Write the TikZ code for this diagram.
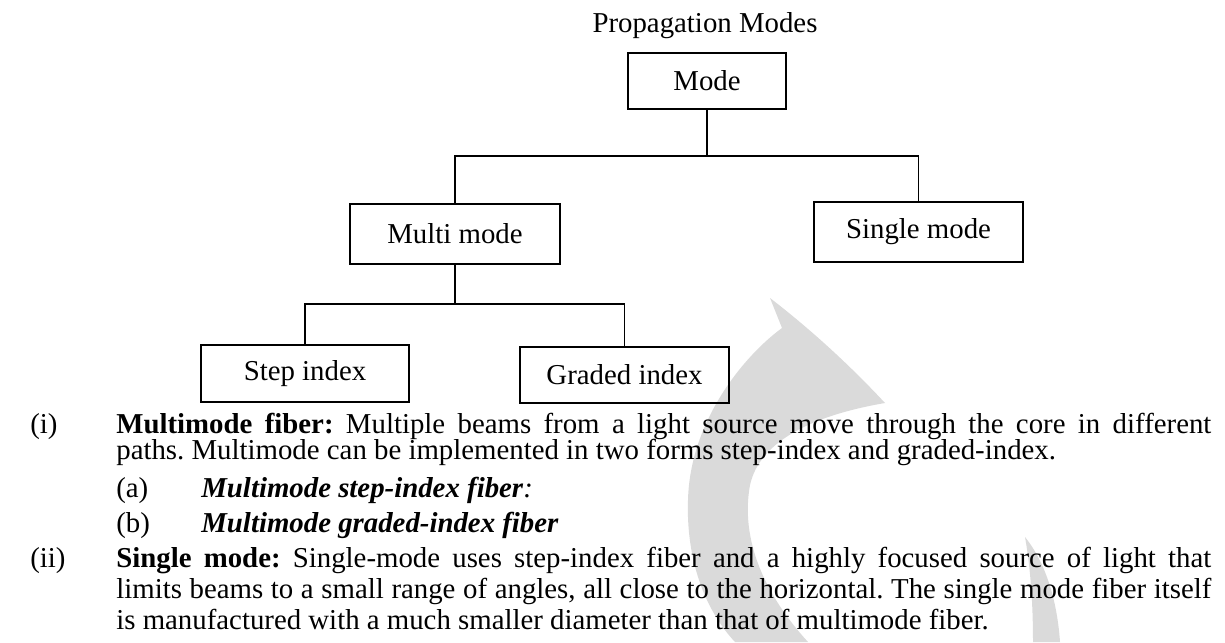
\documentclass[tikz,border=0pt]{standalone}
\usepackage{fontspec}
\setmainfont{Liberation Serif}
\usetikzlibrary{positioning}
\definecolor{ink}{HTML}{000000}
\definecolor{wmgrey}{HTML}{DADADA}
\newcommand{\docfont}{\fontsize{16.4}{14.8}\selectfont\frenchspacing\lineskiplimit=-20pt}
\newcommand{\widefont}{\fontsize{16.4}{17.9}\selectfont\frenchspacing\lineskiplimit=-20pt}

\begin{document}
\begin{tikzpicture}[
  text=ink,
  modebox/.style={draw=ink,line width=1.1pt,font=\docfont,inner sep=0pt},
  link/.style={draw=ink,line width=1.1pt},
  tag/.style={font=\docfont,inner sep=0pt,anchor=base west},
  para/.style={font=\docfont,inner sep=0pt,anchor=base west,
    text width=21.9cm,align=justify}
]
  \useasboundingbox (0,0) rectangle (24.5,-12.84);

  % watermark behind the text
  \fill[wmgrey] (15.40,-5.96) -- (15.64,-6.56)
    .. controls (14.9,-7.1) and (13.8,-8.4) .. (13.76,-10.0)
    .. controls (13.72,-11.2) and (14.1,-12.2) .. (14.70,-12.84)
    -- (16.16,-12.84)
    .. controls (15.3,-11.9) and (14.8,-10.8) .. (15.0,-9.7)
    .. controls (15.2,-8.8) and (16.3,-8.3) .. (17.70,-8.06)
    .. controls (16.9,-7.2) and (16.1,-6.5) .. cycle;
  \fill[wmgrey] (20.50,-10.74)
    .. controls (20.95,-11.3) and (21.15,-12.1) .. (21.20,-12.84)
    -- (20.66,-12.84)
    .. controls (20.66,-12.0) and (20.6,-11.3) .. cycle;

  % tree of modes
  \node[font=\docfont,anchor=base] (title) at (14.10,-0.64) {Propagation Modes};
  \node[modebox,minimum width=3.16cm,minimum height=1.12cm]
    (mode) at (14.14,-1.62) {Mode};
  \node[modebox,minimum width=4.20cm,minimum height=1.20cm]
    (multi) at (9.10,-4.68) {Multi mode};
  \node[modebox,minimum width=4.18cm,minimum height=1.20cm]
    (single) at (18.37,-4.64) {Single mode};
  \node[modebox,minimum width=4.16cm,minimum height=1.14cm]
    (step) at (6.10,-7.47) {Step index};
  \node[modebox,minimum width=4.18cm,minimum height=1.12cm]
    (graded) at (12.49,-7.50) {Graded index};

  \coordinate (fork1) at (14.14,-3.12);
  \coordinate (fork2) at (9.10,-6.08);
  \draw[link] (mode.south) -- (fork1);
  \draw[link] (multi.north) |- (fork1) -| (single.north);
  \draw[link] (multi.south) -- (fork2);
  \draw[link] (step.north) |- (fork2) -| (graded.north);

  % text below the tree
  \node[tag] (num1) at (0.60,-8.66) {(i)};
  \node[para] (multitext) at (2.32,-8.66) {\textbf{Multimode fiber:} Multiple
    beams from a light source move through the core in different\linebreak
    paths. Multimode can be implemented in two forms step-index and
    graded-index.};
  \node[tag] (suba) at (2.32,-9.94) {(a)};
  \node[tag] (subatext) at (4.02,-9.94)
    {\textbf{\textit{Multimode step-index fiber}}\textit{:}};
  \node[tag] (subb) at (2.32,-10.64) {(b)};
  \node[tag] (subbtext) at (4.02,-10.64)
    {\textbf{\textit{Multimode graded-index fiber}}};
  \node[tag] (num2) at (0.60,-11.34) {(ii)};
  \node[para,font=\widefont] (singletext)
    at (2.32,-11.34) {\textbf{Single mode:} Single-mode uses step-index
    fiber and a highly focused source of light that\linebreak limits beams
    to a small range of angles, all close to the horizontal. The single
    mode fiber itself\linebreak is manufactured with a much smaller
    diameter than that of multimode fiber.};
\end{tikzpicture}
\end{document}
